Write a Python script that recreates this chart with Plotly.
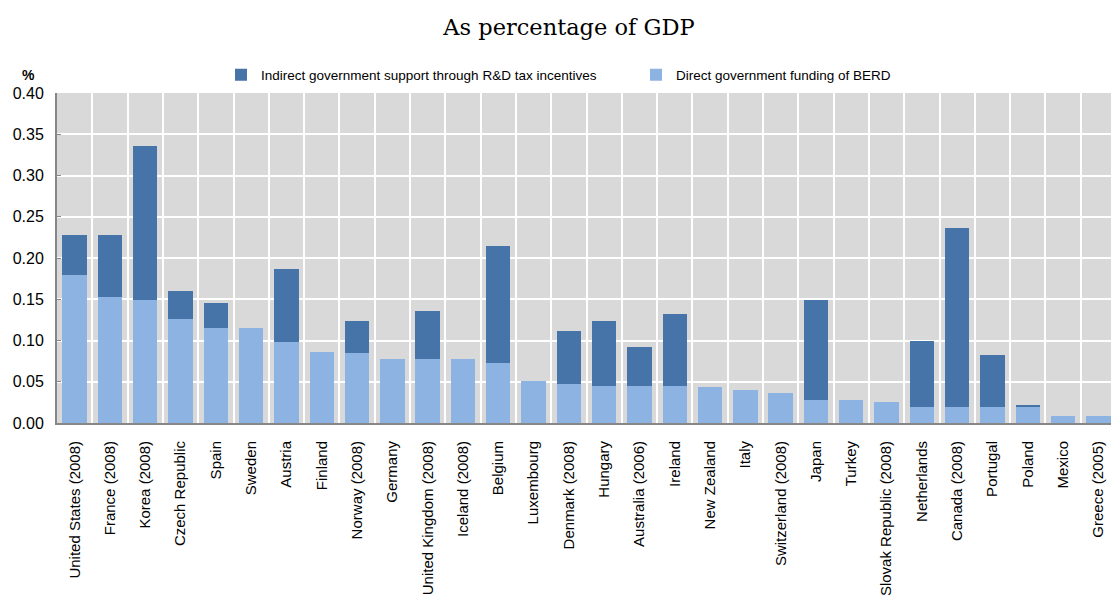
import plotly.graph_objects as go

countries = ["United States (2008)", "France (2008)", "Korea (2008)", "Czech Republic", "Spain",
             "Sweden", "Austria", "Finland", "Norway (2008)", "Germany",
             "United Kingdom (2008)", "Iceland (2008)", "Belgium", "Luxembourg", "Denmark (2008)",
             "Hungary", "Australia (2006)", "Ireland", "New Zealand", "Italy",
             "Switzerland (2008)", "Japan", "Turkey", "Slovak Republic (2008)", "Netherlands",
             "Canada (2008)", "Portugal", "Poland", "Mexico", "Greece (2005)"]

direct = [0.179, 0.153, 0.149, 0.126, 0.115,
          0.115, 0.098, 0.086, 0.085, 0.078,
          0.078, 0.078, 0.073, 0.051, 0.047,
          0.045, 0.045, 0.045, 0.044, 0.040,
          0.036, 0.028, 0.028, 0.025, 0.020,
          0.020, 0.020, 0.0195, 0.009, 0.009]

indirect = [0.049, 0.075, 0.187, 0.034, 0.031,
            0.0, 0.089, 0.0, 0.039, 0.0,
            0.058, 0.0, 0.142, 0.0, 0.064,
            0.079, 0.047, 0.087, 0.0, 0.0,
            0.0, 0.121, 0.0, 0.0, 0.079,
            0.216, 0.062, 0.0012, 0.0, 0.0]

y_ticks = [0.0, 0.05, 0.10, 0.15, 0.20, 0.25, 0.30, 0.35, 0.40]

C_DIRECT = "#8db3e2"
C_INDIRECT = "#4673a8"

fig = go.Figure()
fig.add_trace(go.Bar(x=countries, y=direct, name="Direct government funding of BERD",
                     marker=dict(color=C_DIRECT, line=dict(width=0)), legend="legend2"))
fig.add_trace(go.Bar(x=countries, y=indirect, name="Indirect government support through R&D tax incentives",
                     marker=dict(color=C_INDIRECT, line=dict(width=0)), legend="legend"))

L, R, T, B = 57, 0, 93, 180
W, H = 1111, 603
pw = W - L - R
cat_w = 35.3
x_end = -0.5 + pw / cat_w

def px_to_paper_x(p):
    return (p - L) / pw

def py_to_paper_y(p):
    return (H - B - p) / (H - T - B)

fig.update_layout(
    width=W, height=H,
    showlegend=True,
    barmode="stack", bargap=0.31,
    paper_bgcolor="white", plot_bgcolor="#d9d9d9",
    margin=dict(l=L, r=R, t=T, b=B),
    font=dict(family="Liberation Sans, Arial, sans-serif", color="#000000"),
    title=dict(text="As percentage of GDP", x=569 / W, xref="container", xanchor="center",
               y=1 - 27 / H, yref="container", yanchor="middle",
               font=dict(family="DejaVu Serif, serif", size=22.5, color="#000000")),
    legend=dict(orientation="h", x=px_to_paper_x(221), y=py_to_paper_y(75), xanchor="left", yanchor="middle",
                font=dict(size=13.5), bgcolor="rgba(0,0,0,0)", itemwidth=30),
    legend2=dict(orientation="h", x=px_to_paper_x(636), y=py_to_paper_y(75), xanchor="left", yanchor="middle",
                 font=dict(size=13.5), bgcolor="rgba(0,0,0,0)", itemwidth=30),
    xaxis=dict(type="category", range=[-0.5, x_end], tickangle=-90, tickson="boundaries",
               showgrid=True, gridcolor="white", gridwidth=2,
               showline=True, linecolor="#878787", linewidth=2, ticks="",
               tickfont=dict(size=15, color="#000000"), ticklabelstandoff=10),
    yaxis=dict(range=[0, 0.4], tickvals=y_ticks, ticktext=[f"{v:.2f}" for v in y_ticks],
               showgrid=True, gridcolor="white", gridwidth=2, zeroline=False,
               showline=True, linecolor="#878787", linewidth=2,
               ticks="inside", ticklen=4, tickcolor="#878787",
               tickfont=dict(size=16, color="#000000"), ticklabelstandoff=8),
    annotations=[dict(text="<b>%</b>", x=px_to_paper_x(28), y=py_to_paper_y(75), xref="paper", yref="paper",
                      xanchor="center", yanchor="middle", showarrow=False, font=dict(size=14, color="#000000"))],
)

fig.write_html("out.html", config={"displayModeBar": False},
               post_script="document.body.style.margin='0';document.body.style.overflow='hidden';")
